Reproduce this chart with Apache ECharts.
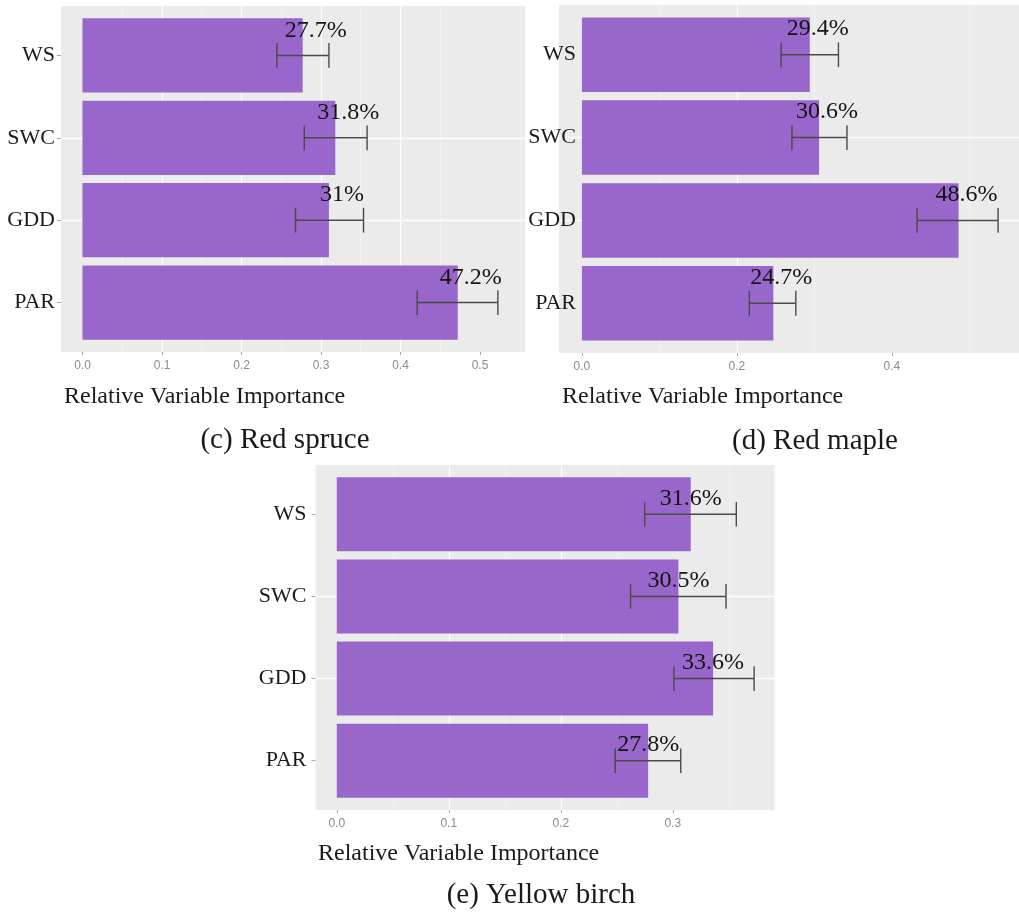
<!DOCTYPE html>
<html>
<head>
<meta charset="utf-8">
<script src="https://cdn.jsdelivr.net/npm/echarts@6/dist/echarts.min.js"></script>
<style>
  html, body { margin: 0; padding: 0; background: #ffffff; }
  #chart { width: 1019px; height: 914px; }
</style>
</head>
<body>
<div id="chart"></div>
<script>
// Predictor variables, listed top to bottom
const categories = ['WS', 'SWC', 'GDD', 'PAR'];

// (c) Red spruce: relative importance with lower / upper error limits
const spruceImportance = [0.277, 0.318, 0.310, 0.472];
const spruceLower = [0.2445, 0.279, 0.268, 0.421];
const spruceUpper = [0.310, 0.358, 0.3535, 0.5225];
const spruceTicks = [0, 0.1, 0.2, 0.3, 0.4, 0.5];

// (d) Red maple
const mapleImportance = [0.294, 0.306, 0.486, 0.247];
const mapleLower = [0.257, 0.271, 0.4325, 0.216];
const mapleUpper = [0.331, 0.342, 0.537, 0.276];
const mapleTicks = [0, 0.2, 0.4];

// (e) Yellow birch
const birchImportance = [0.316, 0.305, 0.336, 0.278];
const birchLower = [0.2749, 0.2623, 0.3010, 0.2486];
const birchUpper = [0.3567, 0.3475, 0.3726, 0.3071];
const birchTicks = [0, 0.1, 0.2, 0.3];

const captions = ['(c) Red spruce', '(d) Red maple', '(e) Yellow birch'];
const axisTitle = 'Relative Variable Importance';

const SERIF = '"Liberation Serif", "Times New Roman", serif';
const BAR_FILL = '#9966CC';
const PANEL_BG = '#EBEBEB';
const ERR_COLOR = '#4a4a4a';

// Panel layout (pixels) and axis extents
const panels = [
  {
    imp: spruceImportance, lo: spruceLower, hi: spruceUpper, ticks: spruceTicks, caption: captions[0],
    grid: { left: 61, top: 6, width: 464, height: 346 },
    xMin: -0.027, xMax: 0.5566, splitNumber: 5,
    labelDx: 13, labelDy: 25, yLabelMargin: 6, yTicks: true,
    titleX: 64, titleY: 397, capX: 285, capY: 440
  },
  {
    imp: mapleImportance, lo: mapleLower, hi: mapleUpper, ticks: mapleTicks, caption: captions[1],
    grid: { left: 559, top: 5, width: 468, height: 348 },
    xMin: -0.0296, xMax: 0.564, splitNumber: 3,
    labelDx: 8, labelDy: 26, yLabelMargin: -17, yTicks: false,
    titleX: 562, titleY: 397, capX: 815, capY: 441
  },
  {
    imp: birchImportance, lo: birchLower, hi: birchUpper, ticks: birchTicks, caption: captions[2],
    grid: { left: 315.5, top: 465, width: 459, height: 345 },
    xMin: -0.019, xMax: 0.3908, splitNumber: 4,
    labelDx: 0, labelDy: 16, yLabelMargin: 9, yTicks: true,
    titleX: 318, titleY: 854, capX: 541, capY: 895
  }
];

function pctLabel(v) {
  return Number((v * 100).toFixed(1)) + '%';
}

const grids = [], xAxes = [], yAxes = [], series = [], graphics = [];

panels.forEach((p, i) => {
  grids.push(Object.assign({
    show: true, backgroundColor: PANEL_BG, borderWidth: 0, containLabel: false
  }, p.grid));

  xAxes.push({
    type: 'value', gridIndex: i, min: p.xMin, max: p.xMax, splitNumber: p.splitNumber,
    axisLine: { show: false, onZero: false },
    axisTick: { show: true, length: 3, customValues: p.ticks, lineStyle: { color: '#a8a8a8', width: 1 } },
    axisLabel: {
      customValues: p.ticks, margin: 8, color: '#8c8c8c', fontSize: 12,
      fontFamily: '"Liberation Sans", Arial, sans-serif',
      formatter: v => (Math.abs(v * 10 - Math.round(v * 10)) < 1e-6 ? v.toFixed(1) : '')
    },
    splitLine: { show: true, showMinLine: false, showMaxLine: false, lineStyle: { color: '#ffffff', width: 1.3 } },
    minorTick: { show: false, splitNumber: 2 },
    minorSplitLine: { show: true, lineStyle: { color: '#f7f7f7', width: 0.7 } }
  });

  yAxes.push({
    type: 'value', gridIndex: i, inverse: true, min: -0.6, max: 3.6, splitNumber: 4,
    axisLine: { show: false, onZero: false },
    axisTick: { show: p.yTicks, length: 4, customValues: [0, 1, 2, 3], lineStyle: { color: '#a8a8a8', width: 1 } },
    axisLabel: {
      customValues: [0, 1, 2, 3], margin: p.yLabelMargin, color: '#1a1a1a', fontSize: 22, fontFamily: SERIF,
      formatter: v => (Number.isInteger(v) && categories[v] ? categories[v] : '')
    },
    splitLine: { show: true, showMinLine: false, showMaxLine: false, lineStyle: { color: '#ffffff', width: 1.3 } }
  });

  const rows = categories.map((c, k) => [k, p.imp[k], p.lo[k], p.hi[k]]);

  // Bars: width = 0.9 of a category step
  series.push({
    type: 'custom', xAxisIndex: i, yAxisIndex: i, data: rows, silent: true,
    encode: { x: 1, y: 0 },
    renderItem(params, api) {
      const idx = api.value(0), v = api.value(1);
      const s = api.coord([0, idx]);
      const e = api.coord([v, idx]);
      const h = api.size([0, 0.9])[1];
      return {
        type: 'rect',
        shape: { x: s[0], y: s[1] - h / 2, width: e[0] - s[0], height: h },
        style: { fill: BAR_FILL }
      };
    }
  });

  // Error bars: caps span 0.3 of a category step
  series.push({
    type: 'custom', xAxisIndex: i, yAxisIndex: i, data: rows, silent: true,
    encode: { x: [2, 3], y: 0 },
    renderItem(params, api) {
      const idx = api.value(0);
      const a = api.coord([api.value(2), idx]);
      const b = api.coord([api.value(3), idx]);
      const cap = api.size([0, 0.3])[1] / 2;
      const st = { stroke: ERR_COLOR, lineWidth: 1.4 };
      return {
        type: 'group',
        children: [
          { type: 'line', shape: { x1: a[0], y1: a[1], x2: b[0], y2: b[1] }, style: st },
          { type: 'line', shape: { x1: a[0], y1: a[1] - cap, x2: a[0], y2: a[1] + cap }, style: st },
          { type: 'line', shape: { x1: b[0], y1: b[1] - cap, x2: b[0], y2: b[1] + cap }, style: st }
        ]
      };
    }
  });

  // Value labels above each bar end
  series.push({
    type: 'custom', xAxisIndex: i, yAxisIndex: i, data: rows, silent: true,
    encode: { x: 1, y: 0 },
    renderItem(params, api) {
      const idx = api.value(0), v = api.value(1);
      const pt = api.coord([v, idx]);
      return {
        type: 'text',
        x: pt[0] + p.labelDx,
        y: pt[1] - p.labelDy,
        style: {
          text: pctLabel(v), fill: '#141414', fontSize: 24, fontFamily: SERIF,
          align: 'center', verticalAlign: 'middle'
        }
      };
    }
  });

  graphics.push({
    type: 'text', x: p.titleX, y: p.titleY, silent: true,
    style: { text: axisTitle, fill: '#1a1a1a', fontSize: 24, fontFamily: SERIF, align: 'left', verticalAlign: 'middle' }
  });
  graphics.push({
    type: 'text', x: p.capX, y: p.capY, silent: true,
    style: { text: p.caption, fill: '#1a1a1a', fontSize: 29, fontFamily: SERIF, align: 'center', verticalAlign: 'middle' }
  });
});

const chart = echarts.init(document.getElementById('chart'), null, { renderer: 'canvas' });
chart.setOption({
  animation: false,
  backgroundColor: '#ffffff',
  grid: grids,
  xAxis: xAxes,
  yAxis: yAxes,
  series: series,
  graphic: graphics
});
</script>
</body>
</html>
